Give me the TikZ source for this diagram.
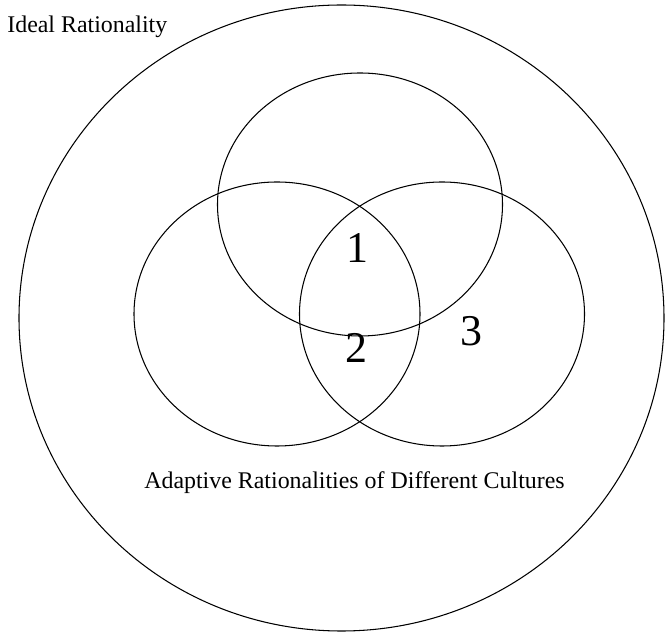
\documentclass[tikz,border=0pt]{standalone}
\usepackage{fontspec}
\setmainfont{Liberation Serif}
\usetikzlibrary{shapes.geometric}

\begin{document}
\begin{tikzpicture}[
  x=1cm,y=1cm,
  set/.style={draw,ellipse,inner sep=0pt,line width=0.6pt},
  region/.style={font=\fontsize{25}{28}\selectfont,inner sep=0pt},
  caption/.style={font=\fontsize{13.6}{16}\selectfont,inner sep=0pt}
]
  \useasboundingbox (0,0) rectangle (13.3,12.64);

  \node[set,minimum width=12.9cm,minimum height=12.52cm] (ideal) at (6.83,6.28) {};
  \node[set,minimum width=5.7cm,minimum height=5.26cm] (culture-top) at (7.2,8.55) {};
  \node[set,minimum width=5.72cm,minimum height=5.28cm] (culture-left) at (5.54,6.36) {};
  \node[set,minimum width=5.7cm,minimum height=5.28cm] (culture-right) at (8.84,6.36) {};

  \node[region] (one) at (7.14,7.68) {1};
  \node[region] (two) at (7.13,5.68) {2};
  \node[region] (three) at (9.43,6.01) {3};

  \node[caption,anchor=base west] (ideal-label) at (0.14,11.98) {Ideal Rationality};
  \node[caption,anchor=base] (adaptive-label) at (7.09,2.86)
    {Adaptive Rationalities of Different Cultures};
\end{tikzpicture}
\end{document}
